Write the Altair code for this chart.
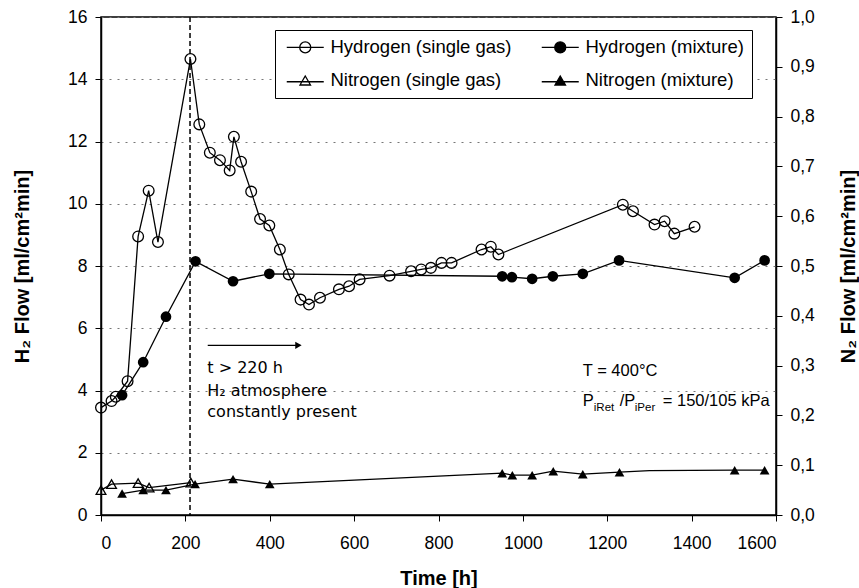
import altair as alt
import pandas as pd

# ---------------- data ----------------
# Hydrogen, single gas (open circles), H2 flow [ml/cm2 min]
h_single_t = [0, 25, 35, 63, 88, 113, 135, 212, 233, 258, 282, 305, 315, 332, 356, 377, 399,
              424, 445, 473, 493, 519, 564, 588, 613, 684, 735, 759, 782, 807, 831, 902, 924,
              942, 1237, 1261, 1312, 1336, 1359, 1407]
h_single_v = [3.45, 3.66, 3.80, 4.30, 8.95, 10.42, 8.77, 14.65, 12.55, 11.64, 11.40, 11.07, 12.15,
              11.35, 10.39, 9.51, 9.30, 8.53, 7.73, 6.92, 6.76, 6.98, 7.25, 7.35, 7.57, 7.69,
              7.83, 7.89, 7.94, 8.10, 8.10, 8.53, 8.62, 8.37, 9.97, 9.76, 9.33, 9.44, 9.04, 9.26]
# Hydrogen, mixture (filled circles)
h_mix_t = [50, 100, 154, 224, 313, 399, 951, 974, 1022, 1071, 1142, 1228, 1502, 1573]
h_mix_v = [3.85, 4.91, 6.37, 8.15, 7.51, 7.75, 7.67, 7.64, 7.59, 7.67, 7.75, 8.18, 7.62, 8.18]
# Nitrogen, single gas (open triangles), N2 flow [ml/cm2 min]
n_single_t = [0, 25, 88, 114, 213]
n_single_v = [0.050, 0.062, 0.064, 0.055, 0.065]
# Nitrogen, mixture (filled triangles)
n_mix_t = [50, 100, 154, 223, 313, 400, 951, 975, 1022, 1072, 1142, 1229, 1502, 1573]
n_mix_v = [0.043, 0.050, 0.050, 0.062, 0.072, 0.062, 0.084, 0.080, 0.080, 0.088, 0.082,
           0.086, 0.090, 0.090]
# unmarked points on the nitrogen (mixture) trend line
n_mix_extra_t = [600, 800, 1300]
n_mix_extra_v = [0.070, 0.078, 0.089]

series_names = ["Hydrogen (single gas)", "Hydrogen (mixture)",
                "Nitrogen (single gas)", "Nitrogen (mixture)"]

x_ticks = list(range(0, 1601, 200))
h2_ticks = list(range(0, 17, 2))
n2_ticks = [i / 10 for i in range(0, 11)]

marker_time = [211]
arrow_t = [253, 468]
arrow_v = [5.45, 5.45]
note_t = [252, 252, 252]
note_v = [4.55, 3.82, 3.14]
note_text = ["t > 220 h", "H\u2082 atmosphere", "constantly present"]
cond_t = [1142]
cond_v1 = [4.47]
cond_v2 = [3.50]

# ---------------- frames ----------------
df_hs = pd.DataFrame({"t": h_single_t, "v": h_single_v})
df_hm = pd.DataFrame({"t": h_mix_t, "v": h_mix_v})
df_ns = pd.DataFrame({"t": n_single_t, "v": n_single_v})
df_nm = pd.DataFrame({"t": n_mix_t, "v": n_mix_v})
df_nm_line = pd.concat([df_nm, pd.DataFrame({"t": n_mix_extra_t, "v": n_mix_extra_v})]).sort_values("t")

FONT = "Liberation Sans"

X = alt.X("t:Q", scale=alt.Scale(domain=[0, 1600], nice=False),
          axis=alt.Axis(values=x_ticks, title="Time [h]", grid=False, tickSize=6,
                        labelPadding=13, titlePadding=17, labelFontSize=17.5,
                        titleFontSize=20, titleFontWeight="bold", format="d"))
YH = alt.Y("v:Q", scale=alt.Scale(domain=[0, 16], nice=False),
           axis=alt.Axis(values=h2_ticks, title="H\u2082 Flow [ml/cm\u00b2min]", grid=True,
                         gridDash=[2, 6], gridColor="#777777", gridWidth=1, tickSize=6,
                         labelPadding=8, titlePadding=35, labelFontSize=17.5,
                         titleFontSize=20, titleFontWeight="bold", format="d"))
YN = alt.Y("v:Q", scale=alt.Scale(domain=[0, 1], nice=False),
           axis=alt.Axis(values=n2_ticks, orient="right", title="N\u2082 Flow [ml/cm\u00b2min]",
                         grid=False, tickSize=6, labelPadding=8, titlePadding=44,
                         labelFontSize=17.5, titleFontSize=20, titleFontWeight="bold",
                         titleAngle=270,
                         labelExpr="replace(format(datum.value, '.1f'), '.', ',')"))

LW = 1.3

h_single_line = alt.Chart(df_hs).mark_line(color="black", strokeWidth=LW).encode(x=X, y=YH)
h_single_pts = alt.Chart(df_hs).mark_point(shape="circle", filled=False, color="black",
                                           strokeWidth=LW, size=115, opacity=1).encode(x=X, y=YH)
h_mix_line = alt.Chart(df_hm).mark_line(color="black", strokeWidth=LW).encode(x=X, y=YH)
h_mix_pts = alt.Chart(df_hm).mark_point(shape="circle", filled=True, color="black",
                                        size=115, opacity=1).encode(x=X, y=YH)

rule = alt.Chart(pd.DataFrame({"t": marker_time})).mark_rule(
    color="black", strokeDash=[5, 3], strokeWidth=1.5).encode(x=X)

arrow_line = alt.Chart(pd.DataFrame({"t": arrow_t, "v": arrow_v})).mark_line(
    color="black", strokeWidth=1.3).encode(x=X, y=YH)
arrow_head = alt.Chart(pd.DataFrame({"t": arrow_t[-1:], "v": arrow_v[-1:]})).mark_point(
    shape="triangle-right", filled=True, color="black", size=55, opacity=1).encode(x=X, y=YH)

notes = alt.Chart(pd.DataFrame({"t": note_t, "v": note_v, "label": note_text})).mark_text(
    align="left", baseline="alphabetic", font="DejaVu Sans", fontSize=16, color="black"
).encode(x=X, y=YH, text="label:N")

cond_df1 = pd.DataFrame({"t": cond_t, "v": cond_v1, "label": ["T = 400\u00b0C"]})
cond_df2 = pd.DataFrame({"t": cond_t, "v": cond_v2})


def cond_piece(txt, dx, dy, size):
    d = cond_df2.assign(label=[txt])
    return alt.Chart(d).mark_text(align="left", baseline="alphabetic", font=FONT,
                                  fontSize=size, color="black", dx=dx, dy=dy
                                  ).encode(x=X, y=YH, text="label:N")


cond1 = alt.Chart(cond_df1).mark_text(align="left", baseline="alphabetic", font=FONT,
                                      fontSize=16.5, color="black").encode(x=X, y=YH, text="label:N")
cond_parts = [
    cond_piece("P", 0, 0, 16.5),
    cond_piece("iRet", 11, 5, 11.5),
    cond_piece("/P", 37, 0, 16.5),
    cond_piece("iPer", 52, 5, 11.5),
    cond_piece("= 150/105 kPa", 80, 0, 16.5),
]

h2_layer = alt.layer(rule, h_single_line, h_mix_line, h_single_pts, h_mix_pts,
                     arrow_line, arrow_head, notes, cond1, *cond_parts)

n_single_line = alt.Chart(df_ns).mark_line(color="black", strokeWidth=LW).encode(x=X, y=YN)
n_single_pts = alt.Chart(df_ns).mark_point(shape="triangle-up", filled=False, color="black",
                                           strokeWidth=LW, size=95, opacity=1).encode(x=X, y=YN)
n_mix_line = alt.Chart(df_nm_line).mark_line(color="black", strokeWidth=LW).encode(x=X, y=YN)
n_mix_pts = alt.Chart(df_nm).mark_point(shape="triangle-up", filled=True, color="black",
                                        size=95, opacity=1).encode(x=X, y=YN)

n2_layer = alt.layer(n_single_line, n_mix_line, n_single_pts, n_mix_pts)

# legend-only layer (draws nothing, shows the four series)
circle_path = "M-3.7,0L3.7,0M1.1,0A1.1,1.1,0,1,1,-1.1,0A1.1,1.1,0,1,1,1.1,0Z"
tri_path = "M-3.7,0.3L3.7,0.3M0,-0.85L1.05,0.95L-1.05,0.95Z"
leg = alt.Legend(title=None, orient="none", legendX=174, legendY=13, columns=2,
                 direction="horizontal",
                 symbolSize=100, symbolStrokeWidth=1.3, symbolStrokeColor="black",
                 symbolOpacity=1,
                 labelFont=FONT, labelFontSize=18.5, labelColor="black", labelLimit=400,
                 strokeColor="black", fillColor="white", padding=8, rowPadding=14,
                 columnPadding=26, symbolOffset=13, labelOffset=16)
legend_layer = alt.Chart(pd.DataFrame({"series": series_names})).transform_filter(
    "datum.series == 'none'").mark_point(filled=True, strokeWidth=1.3, opacity=1).encode(
    shape=alt.Shape("series:N", scale=alt.Scale(domain=series_names,
                                               range=[circle_path, circle_path, tri_path, tri_path]),
                    legend=leg),
    fill=alt.Fill("series:N", scale=alt.Scale(domain=series_names,
                                             range=["white", "black", "white", "black"]),
                  legend=leg),
    stroke=alt.Stroke("series:N", scale=alt.Scale(domain=series_names,
                                                 range=["black", "black", "black", "black"]),
                      legend=leg),
)

chart = alt.layer(h2_layer, n2_layer, legend_layer).resolve_scale(
    y="independent", shape="independent", fill="independent", stroke="independent"
).properties(
    width=675, height=498,
    autosize=alt.AutoSizeParams(type="none"),
    padding={"left": 101, "top": 17, "right": 83, "bottom": 73},
    background="white",
).configure_view(stroke="black", strokeWidth=1.5).configure_axis(
    domainColor="black", domainWidth=1.5, tickColor="black", labelColor="black",
    titleColor="black", labelFont=FONT, titleFont=FONT,
)

chart.save("out.html", embed_options={"renderer": "svg", "actions": False})
